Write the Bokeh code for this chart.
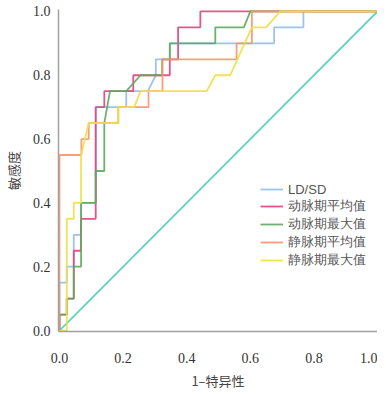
from bokeh.plotting import figure
from bokeh.models import Range1d, FixedTicker, PrintfTickFormatter, Legend, LegendItem
from bokeh.embed import file_html
from bokeh.resources import INLINE

# ROC curves (1-specificity, sensitivity)
series_names = ["LD/SD", "动脉期平均值", "动脉期最大值", "静脉期平均值", "静脉期最大值"]

ldsd_x = [0, 0, 0.023, 0.023, 0.045, 0.045, 0.068, 0.068, 0.114, 0.114, 0.21, 0.21, 0.278, 0.303, 0.303, 0.347, 0.347, 0.675, 0.675, 0.767, 0.767, 1.0]
ldsd_y = [0, 0.15, 0.15, 0.20, 0.20, 0.30, 0.30, 0.40, 0.40, 0.70, 0.70, 0.75, 0.75, 0.80, 0.85, 0.85, 0.90, 0.90, 0.95, 0.95, 1.0, 1.0]

art_mean_x = [0, 0, 0.023, 0.023, 0.045, 0.045, 0.068, 0.068, 0.114, 0.114, 0.141, 0.141, 0.232, 0.232, 0.347, 0.347, 0.373, 0.373, 0.443, 0.443, 1.0]
art_mean_y = [0, 0.05, 0.05, 0.10, 0.10, 0.25, 0.25, 0.35, 0.35, 0.70, 0.70, 0.75, 0.75, 0.80, 0.80, 0.85, 0.85, 0.95, 0.95, 1.0, 1.0]

art_max_x = [0, 0, 0.023, 0.023, 0.045, 0.045, 0.068, 0.068, 0.114, 0.114, 0.141, 0.141, 0.159, 0.21, 0.255, 0.323, 0.323, 0.347, 0.347, 0.49, 0.49, 0.58, 0.60, 1.0]
art_max_y = [0, 0.05, 0.05, 0.10, 0.10, 0.20, 0.20, 0.40, 0.40, 0.50, 0.50, 0.65, 0.75, 0.75, 0.80, 0.80, 0.85, 0.85, 0.90, 0.90, 0.95, 0.95, 1.0, 1.0]

ven_mean_x = [0, 0, 0.069, 0.069, 0.092, 0.092, 0.185, 0.185, 0.28, 0.28, 0.324, 0.324, 0.557, 0.557, 0.605, 0.605, 1.0]
ven_mean_y = [0, 0.55, 0.55, 0.60, 0.60, 0.65, 0.65, 0.70, 0.70, 0.75, 0.75, 0.85, 0.85, 0.90, 0.90, 1.0, 1.0]

ven_max_x = [0, 0.023, 0.023, 0.045, 0.045, 0.068, 0.068, 0.092, 0.185, 0.185, 0.235, 0.255, 0.463, 0.49, 0.537, 0.605, 0.65, 0.694, 1.0]
ven_max_y = [0, 0, 0.35, 0.35, 0.40, 0.40, 0.55, 0.65, 0.65, 0.70, 0.70, 0.75, 0.75, 0.80, 0.80, 0.95, 0.95, 1.0, 1.0]

ref_x = [0, 1]
ref_y = [0, 1]

tick_values = [0.0, 0.2, 0.4, 0.6, 0.8, 1.0]

colors = ["#93bdec", "#e4437a", "#5ea85e", "#f7936c", "#f0df45"]

p = figure(frame_width=319, frame_height=322, output_backend="svg", toolbar_location=None,
           x_range=Range1d(-0.003, 1.0), y_range=Range1d(-0.003, 1.006),
           min_border_left=51, min_border_right=0, min_border_top=9, min_border_bottom=40)
p.outline_line_color = None
p.xgrid.visible = False
p.ygrid.visible = False
p.background_fill_color = "white"

p.line(ref_x, ref_y, line_color="#62d2c0", line_width=1.8)

data = [(ldsd_x, ldsd_y), (art_mean_x, art_mean_y), (art_max_x, art_max_y),
        (ven_mean_x, ven_mean_y), (ven_max_x, ven_max_y)]
items = []
for (xs, ys), c, name in zip(data, colors, series_names):
    r = p.line(xs, ys, line_color=c, line_width=1.8, line_alpha=0.9)
    items.append(LegendItem(label=name, renderers=[r]))

legend = Legend(items=items, location=(202, 62), padding=2, spacing=0,
                label_height=16, glyph_height=16, glyph_width=23, label_standoff=5,
                label_text_font_size="13px", label_text_color="#555555",
                label_text_font="Liberation Sans",
                border_line_color=None, background_fill_alpha=0)
p.add_layout(legend, "center")

for ax in (p.xaxis[0], p.yaxis[0]):
    ax.ticker = FixedTicker(ticks=tick_values)
    ax.formatter = PrintfTickFormatter(format="%.1f")
    ax.axis_line_color = "#a0a0a0"
    ax.axis_line_width = 1.5
    ax.major_tick_line_color = None
    ax.minor_tick_line_color = None
    ax.major_tick_out = 0
    ax.minor_tick_out = 0
    ax.major_label_text_font = "Liberation Serif"
    ax.major_label_text_font_size = "14px"
    ax.major_label_text_color = "#333333"
    ax.axis_label_text_font = "Noto Sans CJK SC"
    ax.axis_label_text_font_size = "13px"
    ax.axis_label_text_font_style = "normal"
    ax.axis_label_text_color = "#444444"

p.xaxis.axis_label = "1–特异性"
p.yaxis.axis_label = "敏感度"
p.xaxis.major_label_standoff = 21
p.xaxis.axis_label_standoff = 5
p.yaxis.major_label_standoff = 8
p.yaxis.axis_label_standoff = 7

open("out.html", "w").write(file_html(p, INLINE))
